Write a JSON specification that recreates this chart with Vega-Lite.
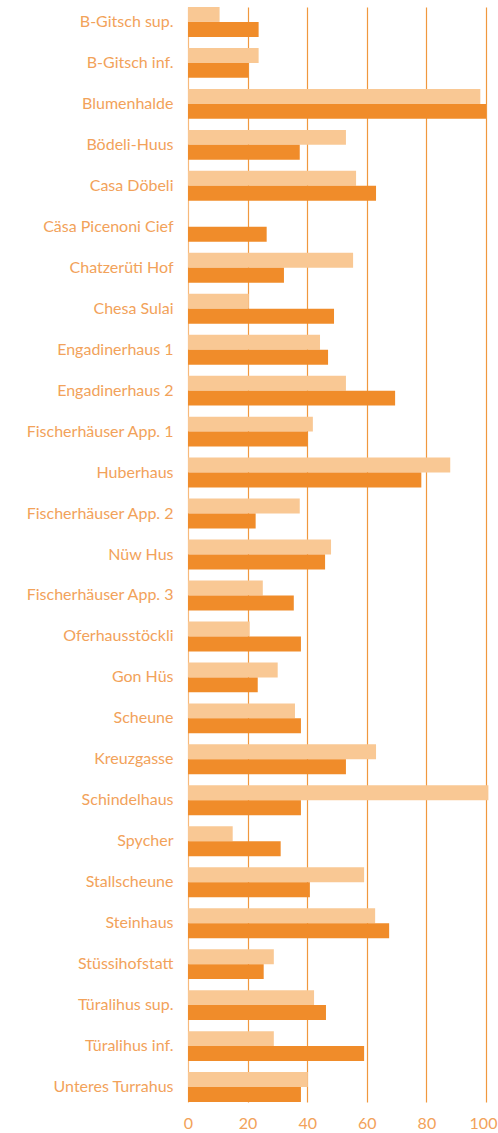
{
  "$schema": "https://vega.github.io/schema/vega-lite/v6.json",
  "width": 298,
  "height": 1095,
  "autosize": {"type": "none"},
  "padding": {"left": 188, "top": 7, "right": 12, "bottom": 31},
  "background": "white",
  "config": {"view": {"stroke": null}, "font": "Lato"},
  "data": {
    "values": [
      {"name": "B-Gitsch sup.", "serie": "A", "wert": 10.6},
      {"name": "B-Gitsch sup.", "serie": "B", "wert": 23.7},
      {"name": "B-Gitsch inf.", "serie": "A", "wert": 23.7},
      {"name": "B-Gitsch inf.", "serie": "B", "wert": 20.3},
      {"name": "Blumenhalde", "serie": "A", "wert": 98.1},
      {"name": "Blumenhalde", "serie": "B", "wert": 100},
      {"name": "Bödeli-Huus", "serie": "A", "wert": 53.0},
      {"name": "Bödeli-Huus", "serie": "B", "wert": 37.5},
      {"name": "Casa Döbeli", "serie": "A", "wert": 56.4},
      {"name": "Casa Döbeli", "serie": "B", "wert": 63.1},
      {"name": "Cäsa Picenoni Cief", "serie": "A", "wert": 0},
      {"name": "Cäsa Picenoni Cief", "serie": "B", "wert": 26.4},
      {"name": "Chatzerüti Hof", "serie": "A", "wert": 55.4},
      {"name": "Chatzerüti Hof", "serie": "B", "wert": 32.2},
      {"name": "Chesa Sulai", "serie": "A", "wert": 20.4},
      {"name": "Chesa Sulai", "serie": "B", "wert": 49.0},
      {"name": "Engadinerhaus 1", "serie": "A", "wert": 44.3},
      {"name": "Engadinerhaus 1", "serie": "B", "wert": 47.0},
      {"name": "Engadinerhaus 2", "serie": "A", "wert": 53.0},
      {"name": "Engadinerhaus 2", "serie": "B", "wert": 69.5},
      {"name": "Fischerhäuser App. 1", "serie": "A", "wert": 41.9},
      {"name": "Fischerhäuser App. 1", "serie": "B", "wert": 40.2},
      {"name": "Huberhaus", "serie": "A", "wert": 88.0},
      {"name": "Huberhaus", "serie": "B", "wert": 78.3},
      {"name": "Fischerhäuser App. 2", "serie": "A", "wert": 37.5},
      {"name": "Fischerhäuser App. 2", "serie": "B", "wert": 22.7},
      {"name": "Nüw Hus", "serie": "A", "wert": 48.0},
      {"name": "Nüw Hus", "serie": "B", "wert": 46.0},
      {"name": "Fischerhäuser App. 3", "serie": "A", "wert": 25.1},
      {"name": "Fischerhäuser App. 3", "serie": "B", "wert": 35.5},
      {"name": "Oferhausstöckli", "serie": "A", "wert": 20.7},
      {"name": "Oferhausstöckli", "serie": "B", "wert": 37.9},
      {"name": "Gon Hüs", "serie": "A", "wert": 30.1},
      {"name": "Gon Hüs", "serie": "B", "wert": 23.4},
      {"name": "Scheune", "serie": "A", "wert": 35.9},
      {"name": "Scheune", "serie": "B", "wert": 37.9},
      {"name": "Kreuzgasse", "serie": "A", "wert": 63.1},
      {"name": "Kreuzgasse", "serie": "B", "wert": 53.0},
      {"name": "Schindelhaus", "serie": "A", "wert": 100.8},
      {"name": "Schindelhaus", "serie": "B", "wert": 37.9},
      {"name": "Spycher", "serie": "A", "wert": 15.0},
      {"name": "Spycher", "serie": "B", "wert": 31.1},
      {"name": "Stallscheune", "serie": "A", "wert": 59.1},
      {"name": "Stallscheune", "serie": "B", "wert": 40.9},
      {"name": "Steinhaus", "serie": "A", "wert": 62.8},
      {"name": "Steinhaus", "serie": "B", "wert": 67.5},
      {"name": "Stüssihofstatt", "serie": "A", "wert": 28.8},
      {"name": "Stüssihofstatt", "serie": "B", "wert": 25.4},
      {"name": "Türalihus sup.", "serie": "A", "wert": 42.3},
      {"name": "Türalihus sup.", "serie": "B", "wert": 46.3},
      {"name": "Türalihus inf.", "serie": "A", "wert": 28.8},
      {"name": "Türalihus inf.", "serie": "B", "wert": 59.1},
      {"name": "Unteres Turrahus", "serie": "A", "wert": 40.2},
      {"name": "Unteres Turrahus", "serie": "B", "wert": 37.9}
    ]
  },
  "mark": {"type": "bar", "clip": false},
  "encoding": {
    "y": {
      "field": "name",
      "type": "nominal",
      "sort": null,
      "scale": {"paddingInner": 0.27, "paddingOuter": 0},
      "axis": {
        "title": null,
        "domain": false,
        "ticks": false,
        "grid": false,
        "labelPadding": 15,
        "labelFontSize": 16,
        "labelColor": "#F2A25A",
        "labelFont": "Lato"
      }
    },
    "yOffset": {"field": "serie", "type": "nominal", "sort": ["A", "B"], "scale": {"paddingInner": 0, "paddingOuter": 0}},
    "x": {
      "field": "wert",
      "type": "quantitative",
      "scale": {"domain": [0, 100], "nice": false},
      "axis": {
        "title": null,
        "values": [0, 20, 40, 60, 80, 100],
        "domain": false,
        "ticks": false,
        "grid": true,
        "gridColor": {"condition": {"test": "datum.value === 0", "value": "#F7BA7C"}, "value": "#F0983E"},
        "gridWidth": 1.2,
        "gridOpacity": 1,
        "labelPadding": 13,
        "labelFontSize": 16,
        "labelColor": "#F2A25A",
        "labelFont": "Lato",
        "labelFlush": false,
        "labelOffset": {"condition": {"test": "datum.value === 100", "value": -3}, "value": 0}
      }
    },
    "color": {
      "field": "serie",
      "type": "nominal",
      "scale": {"domain": ["A", "B"], "range": ["#F9C894", "#F08C2A"]},
      "legend": null
    }
  }
}
